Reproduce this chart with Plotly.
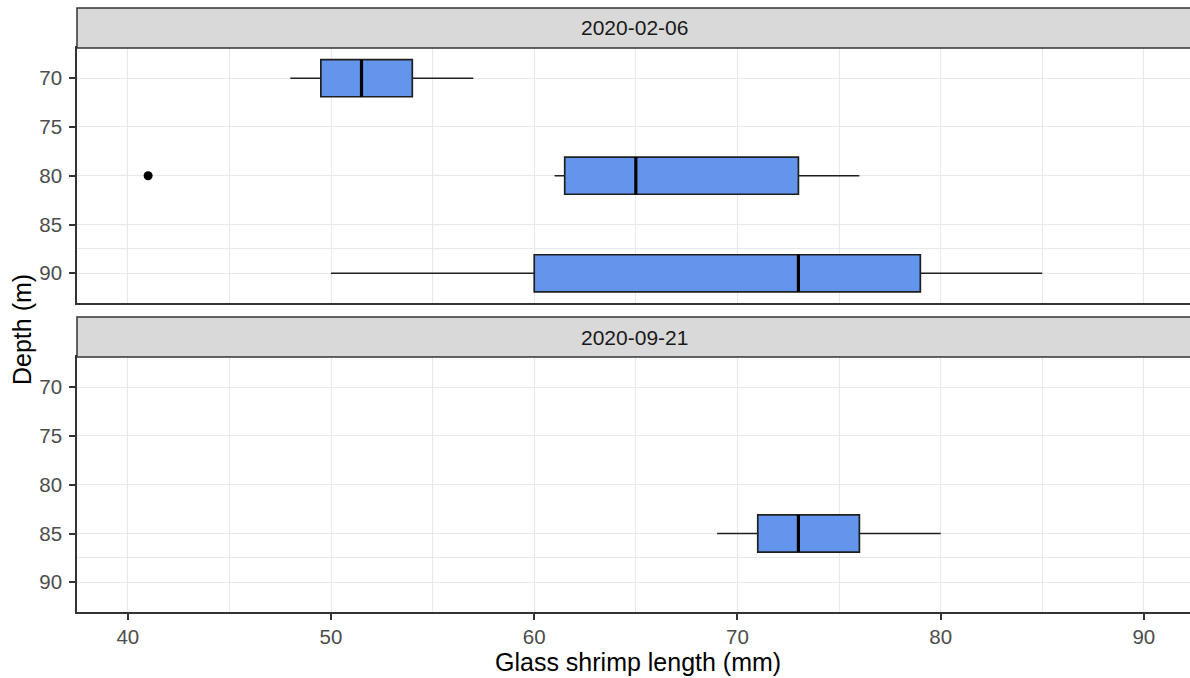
import plotly.graph_objects as go

# Glass shrimp length summaries by sampling date and depth
sample_dates = ["2020-02-06", "2020-02-06", "2020-02-06", "2020-09-21"]
depths = [70, 80, 90, 85]
lower_whisker = [48, 61, 50, 69]
q1 = [49.5, 61.5, 60, 71]
median = [51.5, 65, 73, 73]
q3 = [54, 73, 79, 76]
upper_whisker = [57, 76, 85, 80]

# Outlying individuals
outlier_dates = ["2020-02-06"]
outlier_depths = [80]
outlier_lengths = [41]

panel_dates = ["2020-02-06", "2020-09-21"]
depth_ticks = [70, 75, 80, 85, 90]
length_ticks = [40, 50, 60, 70, 80, 90]

BOX_WIDTH = 3.8
FILL = "#6495ED"
EDGE = "#1F1F1F"
GRID = "#E8E8E8"
BORDER = "#333333"
FONT = "Liberation Sans, Arial, sans-serif"

W, H = 1190, 678
ML, MR, MT, MB = 77, 0, 8, 66
plot_h = H - MT - MB


def frac(py):
    """Pixel row (from top) to paper fraction."""
    return (H - MB - py) / plot_h


# panel geometry (pixel rows): strip top, strip bottom / panel top, panel bottom
panels = {
    "2020-02-06": dict(strip_top=8, panel_top=48, panel_bottom=303, y="y2", x="x2"),
    "2020-09-21": dict(strip_top=317, panel_top=357, panel_bottom=612, y="y", x="x"),
}

fig = go.Figure()

for i, d in enumerate(sample_dates):
    p = panels[d]
    fig.add_trace(go.Box(
        orientation="h",
        y=[depths[i]],
        q1=[q1[i]], median=[median[i]], q3=[q3[i]],
        lowerfence=[lower_whisker[i]], upperfence=[upper_whisker[i]],
        width=BOX_WIDTH, whiskerwidth=0,
        fillcolor=FILL, line=dict(color=EDGE, width=1.7),
        boxpoints=False, hoverinfo="skip",
        xaxis=p["x"], yaxis=p["y"], showlegend=False,
    ))
    # thicker median bar
    fig.add_trace(go.Scatter(
        x=[median[i], median[i]],
        y=[depths[i] - BOX_WIDTH / 2, depths[i] + BOX_WIDTH / 2],
        mode="lines", line=dict(color="#000000", width=3.2),
        xaxis=p["x"], yaxis=p["y"], showlegend=False, hoverinfo="skip",
    ))

for d, dep, ln in zip(outlier_dates, outlier_depths, outlier_lengths):
    p = panels[d]
    fig.add_trace(go.Scatter(
        x=[ln], y=[dep], mode="markers",
        marker=dict(color="#000000", size=9),
        xaxis=p["x"], yaxis=p["y"], showlegend=False, hoverinfo="skip",
    ))

x_common = dict(
    range=[37.5, 92.27], tickvals=length_ticks,
    showgrid=True, gridcolor=GRID, gridwidth=1.2,
    minor=dict(dtick=5, tick0=35, showgrid=True, gridcolor=GRID, gridwidth=0.8),
    showline=True, mirror=True, linecolor=BORDER, linewidth=1.5,
    zeroline=False, domain=[0, 1],
    tickfont=dict(family=FONT, size=20.5, color="#4D4D4D"),
)
y_common = dict(
    range=[93.05, 66.9], tickvals=depth_ticks,
    showgrid=True, gridcolor=GRID, gridwidth=1.2,
    minor=dict(tickvals=[87.5], showgrid=True, gridcolor=GRID, gridwidth=0.8),
    showline=True, mirror=False, linecolor=BORDER, linewidth=1.5,
    zeroline=False, ticks="outside", ticklen=6, tickwidth=1.5, tickcolor=BORDER,
    ticklabelstandoff=3,
    tickfont=dict(family=FONT, size=20.5, color="#4D4D4D"),
)

bottom = panels["2020-09-21"]
top = panels["2020-02-06"]

fig.update_layout(
    width=W, height=H,
    margin=dict(l=ML, r=MR, t=MT, b=MB),
    plot_bgcolor="white", paper_bgcolor="white",
    font=dict(family=FONT),
    xaxis=dict(**x_common, anchor="y", ticks="outside", ticklen=6, tickwidth=1.5,
               tickcolor=BORDER, showticklabels=True),
    xaxis2=dict(**x_common, anchor="y2", matches="x", ticks="", showticklabels=False),
    yaxis=dict(**y_common, anchor="x",
               domain=[frac(bottom["panel_bottom"]), frac(bottom["panel_top"])]),
    yaxis2=dict(**y_common, anchor="x2",
                domain=[frac(top["panel_bottom"]), frac(top["panel_top"])]),
)

# facet strips
for d in panel_dates:
    p = panels[d]
    fig.add_shape(
        type="rect", xref="paper", yref="paper",
        x0=0, x1=1.02, y0=frac(p["panel_top"]), y1=frac(p["strip_top"]),
        fillcolor="#D9D9D9", line=dict(color=BORDER, width=1.5), layer="above",
    )
    fig.add_annotation(
        text=d, xref="paper", yref="paper",
        x=(634 - ML) / (W - ML - MR), y=(frac(p["panel_top"]) + frac(p["strip_top"])) / 2,
        xanchor="center", yanchor="middle", showarrow=False,
        font=dict(family=FONT, size=21, color="#1A1A1A"),
    )

# axis titles
fig.add_annotation(
    text="Glass shrimp length (mm)", xref="paper", yref="paper",
    x=(638 - ML) / (W - ML - MR), y=frac(662),
    xanchor="center", yanchor="middle", showarrow=False,
    font=dict(family=FONT, size=25, color="#000000"),
)
fig.add_annotation(
    text="Depth (m)", xref="paper", yref="paper", textangle=-90,
    x=(22 - ML) / (W - ML - MR), y=frac(330),
    xanchor="center", yanchor="middle", showarrow=False,
    font=dict(family=FONT, size=25, color="#000000"),
)

fig.write_html("out.html")
